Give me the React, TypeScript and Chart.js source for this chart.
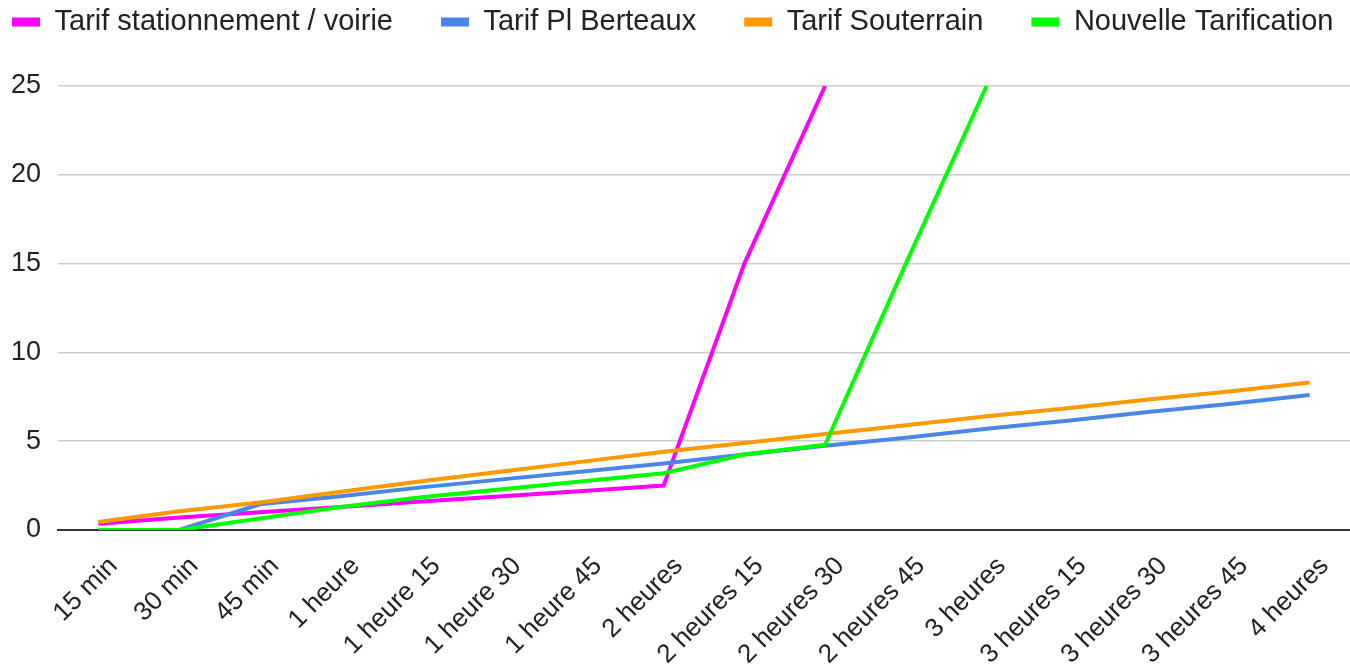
import React, { useEffect, useRef } from "react";
import { Chart, registerables } from "chart.js";

Chart.register(...registerables);

const categories = [
  "15 min", "30 min", "45 min", "1 heure", "1 heure 15", "1 heure 30", "1 heure 45",
  "2 heures", "2 heures 15", "2 heures 30", "2 heures 45", "3 heures", "3 heures 15",
  "3 heures 30", "3 heures 45", "4 heures",
];

const tarifVoirie = [0.35, 0.7, 1.0, 1.3, 1.6, 1.9, 2.2, 2.5, 15, 25, null, null, null, null, null, null];
const tarifBerteaux = [0, 0, 1.45, 1.9, 2.4, 2.85, 3.3, 3.75, 4.25, 4.75, 5.2, 5.7, 6.15, 6.65, 7.1, 7.6];
const tarifSouterrain = [0.45, 1.05, 1.55, 2.15, 2.75, 3.3, 3.85, 4.4, 4.9, 5.4, 5.9, 6.4, 6.85, 7.35, 7.8, 8.3];
const nouvelleTarification = [0, 0, 0.65, 1.3, 1.85, 2.3, 2.75, 3.2, 4.25, 4.8, 15, 25, null, null, null, null];

const yTicks = [0, 5, 10, 15, 20, 25];

const FONT = "Arial, 'Liberation Sans', sans-serif";
const LEGEND_FONT = 29;
const LEGEND_PAD = 48;
const LEGEND_X = 12;
const LEGEND_TOP = 22 - LEGEND_PAD - LEGEND_FONT / 2;
const CHART_TOP = 86;

const legendFix = {
  id: "legendFix",
  afterInit(chart: any) {
    const lg = chart.legend;
    if (!lg) return;
    const origFit = lg.fit;
    lg.fit = function () {
      const mw = this.maxWidth;
      this.maxWidth = mw + 600;
      origFit.call(this);
      this.maxWidth = mw;
      this.width = mw;
      this.height = CHART_TOP - LEGEND_TOP;
    };
  },
  afterLayout(chart: any) {
    const lg = chart.legend;
    if (!lg) return;
    lg.left = LEGEND_X - LEGEND_PAD;
    lg.right = 3000;
  },
};

export default function App() {
  const ref = useRef<HTMLCanvasElement | null>(null);

  useEffect(() => {
    if (!ref.current) return;
    const defaultGen = Chart.defaults.plugins.legend.labels.generateLabels;
    const mk = (label: string, data: (number | null)[], color: string, order: number) => ({
      label,
      data,
      borderColor: color,
      backgroundColor: color,
      borderWidth: 4,
      pointRadius: 0,
      tension: 0,
      clip: 0,
      order,
    });
    const chart = new Chart(ref.current, {
      type: "line",
      data: {
        labels: categories,
        datasets: [
          mk("Tarif stationnement / voirie", tarifVoirie, "#ff00ff", 3),
          mk("Tarif Pl Berteaux", tarifBerteaux, "#4a86e8", 2),
          mk("Tarif Souterrain", tarifSouterrain, "#ff9900", 1),
          mk("Nouvelle Tarification", nouvelleTarification, "#00ff00", 0),
        ],
      },
      options: {
        animation: false,
        responsive: false,
        maintainAspectRatio: false,
        layout: { padding: { top: LEGEND_TOP, left: 0, right: 0, bottom: 0 } },
        plugins: {
          tooltip: { enabled: false },
          legend: {
            position: "top",
            align: "start",
            labels: {
              boxWidth: 28,
              boxHeight: 9,
              padding: LEGEND_PAD,
              color: "#222",
              font: { family: FONT, size: LEGEND_FONT },
              generateLabels: (c: any) =>
                defaultGen(c)
                  .map((l: any) => ({ ...l, lineWidth: 0 }))
                  .sort((a: any, b: any) => a.datasetIndex - b.datasetIndex),
            },
          },
        },
        scales: {
          x: {
            offset: true,
            grid: { display: false },
            border: { display: true, color: "#333", width: 2 },
            ticks: {
              color: "#222",
              font: { family: FONT, size: 26 },
              minRotation: 45,
              maxRotation: 45,
              autoSkip: false,
              labelOffset: 15,
              padding: 13,
            },
            afterFit: (s: any) => {
              s.height = 141;
            },
          },
          y: {
            min: 0,
            max: 25,
            afterBuildTicks: (s: any) => {
              s.ticks = yTicks.map((v) => ({ value: v }));
            },
            afterFit: (s: any) => {
              s.width = 58;
            },
            border: { display: false },
            grid: {
              drawTicks: false,
              lineWidth: (ctx: any) => (ctx.tick && ctx.tick.value === 0 ? 2 : 1.5),
              color: (ctx: any) => (ctx.tick && ctx.tick.value === 0 ? "#333" : "#cccccc"),
            },
            ticks: {
              color: "#222",
              font: { family: FONT, size: 27 },
              padding: 17,
            },
          },
        },
      },
      plugins: [legendFix],
    } as any);
    return () => chart.destroy();
  }, []);

  return (
    <div style={{ position: "fixed", left: 0, top: 0, width: 1350, height: 671, background: "#fff" }}>
      <canvas ref={ref} width={1350} height={671} style={{ display: "block" }} />
    </div>
  );
}
